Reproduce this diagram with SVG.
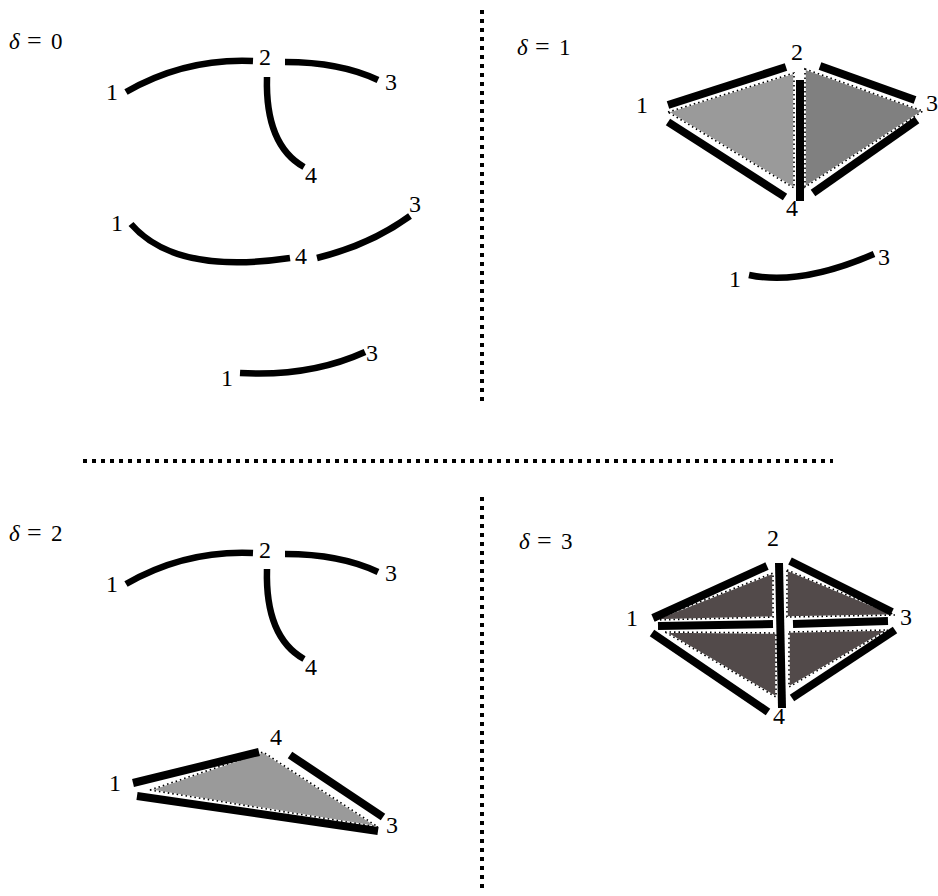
<svg xmlns="http://www.w3.org/2000/svg" width="938" height="896" viewBox="0 0 938 896">
<style>
.lbl{font-family:"Liberation Serif","DejaVu Serif",serif;font-size:24px;fill:#000;text-anchor:middle}
.dl{font-family:"Liberation Serif","DejaVu Serif",serif;font-size:23px;fill:#000}
.it{font-style:italic}
.eq{font-size:26px}
.arc{fill:none;stroke:#000;stroke-width:6.5}
.bar{stroke:#000;stroke-width:8}
.sep{stroke:#000;stroke-width:4;stroke-dasharray:4 5;fill:none}
.tw{fill:none;stroke:#fff;stroke-width:1.6}
.td{fill:none;stroke:#000;stroke-width:1.6;stroke-dasharray:1.5 3}
.g1{fill:#9a9a9a}
.g2{fill:#808080}
.g3{fill:#524a4a}
</style>
<rect width="938" height="896" fill="#fff"/>
<g id="separators">
<line class="sep" x1="482" y1="10" x2="482" y2="402"/>
<line class="sep" x1="83" y1="461" x2="833" y2="461"/>
<line class="sep" x1="482" y1="497" x2="482" y2="892"/>
</g>
<g id="panel-d0">
<text class="dl" y="49"><tspan class="it" x="9">δ</tspan><tspan class="eq" x="27">=</tspan><tspan x="51">0</tspan></text>
<g id="connectors-d0">
<path class="arc" d="M126,92 Q185,58 253,61"/>
<path class="arc" d="M285,62 Q340,62 378,80"/>
<path class="arc" d="M267,77 Q265,145 304,167"/>
<path class="arc" d="M131,224 Q175,275 290,258"/>
<path class="arc" d="M317,258 Q370,245 410,216"/>
<path class="arc" d="M240,373 Q310,377 365,352"/>
</g>
<g id="n0-1"><text class="lbl" x="112" y="100">1</text></g>
<g id="n0-2"><text class="lbl" x="265" y="65">2</text></g>
<g id="n0-3"><text class="lbl" x="391" y="90">3</text></g>
<g id="n0-4"><text class="lbl" x="311" y="183">4</text></g>
<g id="n0b-1"><text class="lbl" x="117" y="231">1</text></g>
<g id="n0b-4"><text class="lbl" x="301" y="264">4</text></g>
<g id="n0b-3"><text class="lbl" x="415" y="212">3</text></g>
<g id="n0c-1"><text class="lbl" x="227" y="386">1</text></g>
<g id="n0c-3"><text class="lbl" x="372" y="361">3</text></g>
</g>
<g id="panel-d1">
<text class="dl" y="55"><tspan class="it" x="517">δ</tspan><tspan class="eq" x="535">=</tspan><tspan x="559">1</tspan></text>
<g id="faces-d1">
<polygon class="g1" points="668,112 794,73 794,188"/>
<polygon class="tw" points="668,112 794,73 794,188"/>
<polygon class="td" points="668,112 794,73 794,188"/>
<polygon class="g2" points="805,69 923,111 805,187"/>
<polygon class="tw" points="805,69 923,111 805,187"/>
<polygon class="td" points="805,69 923,111 805,187"/>
</g>
<g id="connectors-d1">
<line class="bar" x1="668" y1="105" x2="786" y2="67"/>
<line class="bar" x1="668" y1="122" x2="785" y2="197"/>
<line class="bar" x1="800" y1="80" x2="800" y2="201"/>
<line class="bar" x1="820" y1="66" x2="915" y2="100"/>
<line class="bar" x1="917" y1="120" x2="813" y2="193"/>
<path class="arc" d="M749,275 Q800,286 874,254"/>
</g>
<g id="n1-1"><text class="lbl" x="642" y="113">1</text></g>
<g id="n1-2"><text class="lbl" x="797" y="60">2</text></g>
<g id="n1-3"><text class="lbl" x="932" y="111">3</text></g>
<g id="n1-4"><text class="lbl" x="792" y="216">4</text></g>
<g id="n1b-1"><text class="lbl" x="735" y="287">1</text></g>
<g id="n1b-3"><text class="lbl" x="884" y="265">3</text></g>
</g>
<g id="panel-d2">
<text class="dl" y="541"><tspan class="it" x="9">δ</tspan><tspan class="eq" x="27">=</tspan><tspan x="51">2</tspan></text>
<g id="faces-d2">
<polygon class="g1" points="150,790 263,752 378,827"/>
<polygon class="tw" points="150,790 263,752 378,827"/>
<polygon class="td" points="150,790 263,752 378,827"/>
</g>
<g id="connectors-d2">
<path class="arc" d="M126,584 Q185,550 253,553"/>
<path class="arc" d="M285,554 Q340,554 378,572"/>
<path class="arc" d="M267,569 Q265,637 304,659"/>
<line class="bar" x1="133" y1="783" x2="259" y2="752"/>
<line class="bar" x1="290" y1="755" x2="383" y2="817"/>
<line class="bar" x1="137" y1="796" x2="378" y2="831"/>
</g>
<g id="n2-1"><text class="lbl" x="112" y="592">1</text></g>
<g id="n2-2"><text class="lbl" x="265" y="558">2</text></g>
<g id="n2-3"><text class="lbl" x="391" y="581">3</text></g>
<g id="n2-4"><text class="lbl" x="311" y="675">4</text></g>
<g id="n2b-1"><text class="lbl" x="115" y="791">1</text></g>
<g id="n2b-4"><text class="lbl" x="276" y="745">4</text></g>
<g id="n2b-3"><text class="lbl" x="392" y="833">3</text></g>
</g>
<g id="panel-d3">
<text class="dl" y="549"><tspan class="it" x="519">δ</tspan><tspan class="eq" x="537">=</tspan><tspan x="561">3</tspan></text>
<g id="faces-d3">
<polygon class="g3" points="654,620 773,573 773,617"/>
<polygon class="tw" points="654,620 773,573 773,617"/>
<polygon class="td" points="654,620 773,573 773,617"/>
<polygon class="g3" points="787,570 895,615 787,617"/>
<polygon class="tw" points="787,570 895,615 787,617"/>
<polygon class="td" points="787,570 895,615 787,617"/>
<polygon class="g3" points="665,632 776,633 776,697"/>
<polygon class="tw" points="665,632 776,633 776,697"/>
<polygon class="td" points="665,632 776,633 776,697"/>
<polygon class="g3" points="789,632 888,630 789,687"/>
<polygon class="tw" points="789,632 888,630 789,687"/>
<polygon class="td" points="789,632 888,630 789,687"/>
</g>
<g id="connectors-d3">
<line class="bar" x1="653" y1="618" x2="767" y2="566"/>
<line class="bar" x1="779" y1="563" x2="782" y2="708"/>
<line class="bar" x1="790" y1="561" x2="892" y2="612"/>
<line class="bar" x1="658" y1="626" x2="773" y2="624"/>
<line class="bar" x1="793" y1="624" x2="888" y2="621"/>
<line class="bar" x1="652" y1="633" x2="768" y2="712"/>
<line class="bar" x1="792" y1="698" x2="895" y2="630"/>
</g>
<g id="n3-1"><text class="lbl" x="632" y="626">1</text></g>
<g id="n3-2"><text class="lbl" x="773" y="546">2</text></g>
<g id="n3-3"><text class="lbl" x="906" y="625">3</text></g>
<g id="n3-4"><text class="lbl" x="779" y="724">4</text></g>
</g>
</svg>
